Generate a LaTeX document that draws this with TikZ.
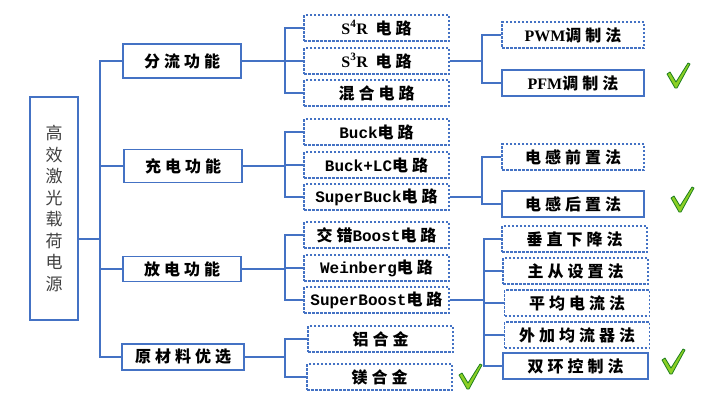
\documentclass[tikz,border=0pt]{standalone}
\usepackage{fontspec}
\usepackage{xcolor}
\setmainfont{Liberation Serif}
\newfontfamily\cjk[LetterSpace=25]{Noto Sans CJK SC}
\newfontfamily\rootfont{Noto Sans CJK SC}
\newfontfamily\monofont{Liberation Mono}
\newcommand\lat[1]{{\monofont\bfseries #1}}
\newcommand\rom[1]{{\rmfamily\bfseries #1}}
\definecolor{lineblue}{HTML}{4472C4}
\definecolor{tickgreen}{HTML}{1E7F1E}
\tikzset{
  okmark/.pic={
    \filldraw[draw=tickgreen, fill=yellow!55!green, line width=0.8pt, line join=round]
      (-11,-2) -- (-8,-4) -- (-2,6) -- (10,-13) -- (12,-12) -- (-1,12) -- (-3,12) -- cycle;
  }
}

\begin{document}
\begin{tikzpicture}[
  x=1pt, y=-1pt,
  main/.style={draw=lineblue, line width=1.8pt, minimum width=118pt, minimum height=33pt,
    inner sep=0pt, font=\cjk\bfseries\fontsize{16}{18}\selectfont},
  sub/.style={draw=lineblue, dash pattern=on 2.5pt off 1.5pt, line width=1.4pt,
    minimum width=145pt, minimum height=26pt, inner sep=0pt,
    font=\cjk\bfseries\fontsize{16}{18}\selectfont},
  pick/.style={sub, solid, line width=1.8pt},
  link/.style={draw=lineblue, line width=1.6pt}
]
\useasboundingbox (0,0) rectangle (727,405);

% root
\node[draw=lineblue, line width=1.8pt, minimum width=48pt, minimum height=223pt, inner sep=0pt,
  align=center, text=black!75, font=\rootfont\fontsize{17}{21.5}\selectfont]
  (root) at (54,208.5) {高\\效\\激\\光\\载\\荷\\电\\源};

% first level
\node[main, minimum height=34pt] (fen) at (182,61) {分流功能};
\node[main] (chong) at (183,166) {充电功能};
\node[main, minimum height=25pt] (fang) at (182,269) {放电功能};
\node[main, minimum width=122pt, minimum height=26pt] (yuan) at (183,357) {原材料优选};

% second level
\node[sub] (s4r) at (376.5,28) {\rom{S\textsuperscript{4}R}\ 电路};
\node[sub] (s3r) at (376.5,61) {\rom{S\textsuperscript{3}R}\ 电路};
\node[sub] (hunhe) at (376.5,93) {混合电路};
\node[sub] (buck) at (376.5,132) {\lat{Buck}电路};
\node[sub] (bucklc) at (376.5,165) {\lat{Buck+LC}电路};
\node[sub] (superbuck) at (376.5,197) {\lat{SuperBuck}电路};
\node[sub] (jiaocuo) at (376.5,235) {交错\lat{Boost}电路};
\node[sub] (weinberg) at (376.5,268) {\lat{Weinberg}电路};
\node[sub] (superboost) at (376.5,300) {\lat{SuperBoost}电路};
\node[sub] (lv) at (380.5,339) {铝合金};
\node[sub] (mei) at (379.5,377) {镁合金};

% third level
\node[sub, minimum width=142pt] (pwm) at (573,35) {\rom{PWM}调制法};
\node[pick, minimum width=142pt] (pfm) at (573,83) {\rom{PFM}调制法};
\node[sub, minimum width=142pt] (qianzhi) at (573,157) {电感前置法};
\node[pick, minimum width=142pt] (houzhi) at (573,204) {电感后置法};
\node[sub] (chuizhi) at (574.5,239) {垂直下降法};
\node[sub] (zhucong) at (575.5,271) {主从设置法};
\node[sub] (pingjun) at (577,303) {平均电流法};
\node[sub] (waijia) at (577,335) {外加均流器法};
\node[pick] (shuanghuan) at (575.5,366) {双环控制法};

% connectors
\coordinate (t0) at (100,239);
\draw[link] (root.east |- t0) -- (t0);
\foreach \n in {fen,chong,fang,yuan}
  \draw[link] (\n.west) -| (t0);

\coordinate (b1) at (285,61);
\coordinate (b2) at (285,166);
\coordinate (b3) at (285,269);
\coordinate (b4) at (285,357);
\draw[link] (fen.east) -- (b1);
\draw[link] (chong.east) -- (b2);
\draw[link] (fang.east) -- (b3);
\draw[link] (yuan.east) -- (b4);
\foreach \n in {s4r,s3r,hunhe}
  \draw[link] (\n.west) -| (b1);
\foreach \n in {buck,bucklc,superbuck}
  \draw[link] (\n.west) -| (b2);
\foreach \n in {jiaocuo,weinberg,superboost}
  \draw[link] (\n.west) -| (b3);
\foreach \n in {lv,mei}
  \draw[link] (\n.west) -| (b4);

\coordinate (c1) at (482,61);
\coordinate (c2) at (482,197);
\coordinate (c3) at (484,300);
\draw[link] (s3r.east) -- (c1);
\draw[link] (superbuck.east) -- (c2);
\draw[link] (superboost.east) -- (c3);
\foreach \n in {pwm,pfm}
  \draw[link] (\n.west) -| (c1);
\foreach \n in {qianzhi,houzhi}
  \draw[link] (\n.west) -| (c2);
\foreach \n in {chuizhi,zhucong,pingjun,waijia,shuanghuan}
  \draw[link] (\n.west) -| (c3);

% ticks
\pic at (678,76) {okmark};
\pic at (682,200) {okmark};
\pic at (673,362) {okmark};
\pic at (470,377) {okmark};
\end{tikzpicture}
\end{document}
